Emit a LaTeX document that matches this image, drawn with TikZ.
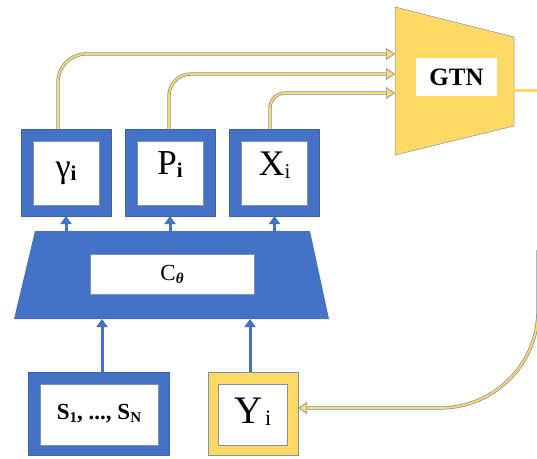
\documentclass[tikz,border=0pt]{standalone}
\usepackage{fontspec}
\setmainfont{Liberation Serif}
\usetikzlibrary{arrows.meta}

\definecolor{boxblue}{HTML}{4472C4}
\definecolor{edgeblue}{HTML}{3A62AC}
\definecolor{gold}{HTML}{FFD966}
\definecolor{slate}{HTML}{8091A8}

\newcommand{\fs}[1]{\fontsize{#1}{#1}\selectfont}
\newcommand{\lowsub}[3]{\raisebox{-#2pt}{\fs{#1}#3}}

\tikzset{
  outerbox/.style={draw=edgeblue, line width=0.4pt, fill=boxblue},
  innerbox/.style={draw=slate, line width=0.4pt, fill=white},
  goldouter/.style={draw=slate, line width=0.5pt, fill=gold},
  bluearrow/.style={draw=boxblue, line width=3pt,
    -{Triangle[length=8pt,width=11pt]}},
  goldlink/.style={draw=slate, line width=0.75pt, double=gold,
    double distance=1.8pt},
  goldtip/.style={-{Triangle[length=9pt,width=12pt,fill=gold,line width=0.7pt]}},
  label/.style={inner sep=0pt, anchor=center}
}

\begin{document}
\begin{tikzpicture}[x=1pt, y=-1pt]
\useasboundingbox (0,0) rectangle (537,458);
\clip (0,0) rectangle (537,458);

% ---- generator trapezium ----
\fill[gold, draw=slate, line width=0.5pt] (395,7) -- (514,37) -- (514,126) -- (395,155) -- cycle;
\node[fill=white, minimum width=81pt, minimum height=38pt, inner sep=0pt,
      font=\fs{25}\bfseries] (gtn) at (456.5,77) {GTN};
\coordinate (gtnA) at (395,54);
\coordinate (gtnB) at (395,74);
\coordinate (gtnC) at (395,93);
\coordinate (gtnOut) at (514,90);
\coordinate (offR) at (560,90);

% output of the generator
\draw[gold, line width=3pt] (gtnOut) -- (offR);

% ---- encoder trapezium ----
\fill[boxblue] (35,231) -- (310,231) -- (329,319) -- (14,319) -- cycle;
\node[innerbox, minimum width=164pt, minimum height=40pt, inner sep=0pt]
      (ctheta) at (172,274) {\fs{23}C\lowsub{15}{3}{\bfseries\itshape θ}};
\coordinate (encTopG) at (66,231);
\coordinate (encTopP) at (170,231);
\coordinate (encTopX) at (274.5,231);
\coordinate (encBotS) at (102,319);
\coordinate (encBotY) at (250,319);

% ---- latent boxes ----
\foreach \n/\cx in {g/66, p/170, x/274.5}{
  \draw[outerbox] (\cx-45,129) rectangle (\cx+45,216);
  \draw[innerbox] (\cx-33,141) rectangle (\cx+33,205);
  \coordinate (\n-top) at (\cx,129);
  \coordinate (\n-bot) at (\cx,216);
}
\node[label] (gtext) at (66,173) {\fs{34}γ\lowsub{21}{3}{\bfseries i}};
\node[label] (ptext) at (170,165) {\fs{35}P\lowsub{21}{3}{\bfseries i}};
\node[label] (xtext) at (274.5,165) {\fs{36}X\lowsub{21}{3}{i}};

% ---- input boxes ----
\draw[outerbox] (28,372) rectangle (169,455);
\draw[innerbox] (40,384) rectangle (158,445);
\node[label, font=\fs{23}\bfseries] (stext) at (99,414)
  {S\lowsub{15}{3}{1}, ..., S\lowsub{15}{3}{N}};
\coordinate (s-top) at (102,372);

\draw[goldouter] (208,372) rectangle (298,455);
\draw[innerbox] (218,384) rectangle (287,445);
\node[label] (ytext) at (253,412) {\fs{39}Y\kern2pt\lowsub{22}{2}{i}};
\coordinate (y-top) at (250,372);
\coordinate (y-east) at (298,408);

% ---- blue connectors ----
\draw[bluearrow] (encTopG) -- (g-bot);
\draw[bluearrow] (encTopP) -- (p-bot);
\draw[bluearrow] (encTopX) -- (x-bot);
\draw[bluearrow] (s-top) -- (encBotS);
\draw[bluearrow] (y-top) -- (encBotY);

% ---- gold links into the generator ----
\draw[goldlink, goldtip, rounded corners=28pt]
  ([xshift=-8pt]g-top) |- (gtnA);
\draw[goldlink, goldtip, rounded corners=22pt]
  ([xshift=-1pt]p-top) |- (gtnB);
\draw[goldlink, goldtip, rounded corners=15pt]
  ([xshift=-4.5pt]x-top) |- (gtnC);

% ---- feedback to the label box ----
\coordinate (fbStart) at (538,250);
\draw[goldlink, goldtip]
  (fbStart) -- (538,310) arc[start angle=0, end angle=90, radius=98] -- (y-east);
\end{tikzpicture}
\end{document}
